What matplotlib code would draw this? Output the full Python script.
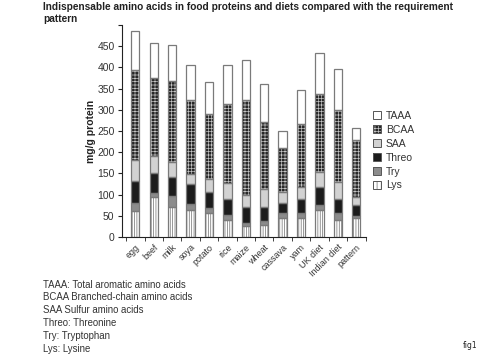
import matplotlib
matplotlib.use("Agg")

import matplotlib.pyplot as plt
from matplotlib.patches import Patch
import numpy as np

plt.rcParams['font.family'] = ['Liberation Sans', 'DejaVu Sans']
plt.rcParams['hatch.linewidth'] = 0.5

# --- Dados (mg/g proteína, segmentos empilhados) ---
categorias = ["egg", "beef", "milk", "soya", "potato", "rice", "maize",
              "wheat", "cassava", "yam", "UK diet", "Indian diet", "pattern"]
lys   = [62, 94, 71, 65, 56, 40, 27, 28, 44, 44, 64, 40, 46]
tryp  = [19, 10, 25, 14, 12, 13, 7, 10, 12, 12, 12, 18, 4]
threo = [51, 47, 46, 45, 39, 37, 36, 32, 25, 35, 43, 33, 25]
saa   = [49, 39, 35, 25, 29, 38, 29, 43, 26, 26, 35, 38, 20]
bcaa  = [213, 185, 191, 174, 154, 186, 225, 158, 102, 150, 184, 171, 133]
taaa  = [91, 82, 84, 83, 75, 92, 94, 90, 40, 80, 96, 95, 29]

nomes_series = ["Lys", "Try", "Threo", "SAA", "BCAA", "TAAA"]
notas = ["TAAA: Total aromatic amino acids",
         "BCAA Branched-chain amino acids",
         "SAA Sulfur amino acids",
         "Threo: Threonine",
         "Try: Tryptophan",
         "Lys: Lysine"]

# estilo de cada série: (cor de fundo, hachura, cor da hachura)
estilos = {
    "Lys":   ("white", "|||||||", "#6e6e6e"),
    "Try":   ("#8c8c8c", None, None),
    "Threo": ("#1c1c1c", None, None),
    "SAA":   ("#d2d2d2", None, None),
    "BCAA":  ("#262626", "+++++", "#c4c4c4"),
    "TAAA":  ("white", None, None),
}
borda = "#7a7a7a"
largura = 0.45

fig = plt.figure(figsize=(5.0, 3.55), dpi=100)
ax = fig.add_axes([0.243, 0.332, 0.488, 0.598])

x = np.arange(len(categorias))
base = np.zeros(len(categorias))
handles = []
for nome, valores in zip(nomes_series, [lys, tryp, threo, saa, bcaa, taaa]):
    cor, hachura, cor_hach = estilos[nome]
    if hachura:
        ax.bar(x, valores, largura, bottom=base, color=cor, hatch=hachura,
               edgecolor=cor_hach, linewidth=0, zorder=2)
    else:
        ax.bar(x, valores, largura, bottom=base, color=cor, linewidth=0, zorder=2)
    ax.bar(x, valores, largura, bottom=base, fill=False, edgecolor=borda,
           linewidth=0.9, zorder=3)
    if hachura:
        fundo = Patch(facecolor=cor, hatch=hachura.replace("|||||||", "||||"),
                      edgecolor=cor_hach, linewidth=0)
    else:
        fundo = Patch(facecolor=cor, linewidth=0)
    contorno = Patch(fill=False, edgecolor="#555555", linewidth=0.7)
    handles.append((fundo, contorno))
    base = base + np.array(valores)

ax.set_xlim(-0.75, 12.5)
ax.set_ylim(0, 500)
ax.set_yticks(np.arange(0, 501, 50))
ax.set_yticklabels([str(v) for v in range(0, 451, 50)] + [""], fontsize=7.5, color="#333333")
ax.set_ylabel("mg/g protein", fontsize=7.5, fontweight="bold", color="#222222", labelpad=1)

ax.set_xticks(x)
ax.set_xticklabels(categorias, rotation=45, ha="right", rotation_mode="anchor",
                   fontsize=6.5, color="#333333")
ax.tick_params(axis="x", length=0, pad=4)
ax.set_xticks(np.arange(-0.5, 12.6, 1), minor=True)
ax.tick_params(axis="x", which="minor", length=3, color="#222222")
ax.tick_params(axis="y", length=3, color="#222222", pad=2)

for s in ["top", "right"]:
    ax.spines[s].set_visible(False)
for s in ["left", "bottom"]:
    ax.spines[s].set_color("#222222")
    ax.spines[s].set_linewidth(0.8)

leg = fig.legend(handles[::-1], nomes_series[::-1], loc="upper left",
                 bbox_to_anchor=(0.738, 0.7), frameon=False, fontsize=7.5,
                 handlelength=0.75, handleheight=0.75, handletextpad=0.45,
                 labelspacing=0.38, borderaxespad=0)
for t in leg.get_texts():
    t.set_color("#333333")

fig.text(0.086, 0.993, "Indispensable amino acids in food proteins and diets compared with the requirement\npattern",
         fontsize=7.3, fontweight="bold", color="#222222", va="top", ha="left", linespacing=1.15)

for i, linha in enumerate(notas):
    fig.text(0.086, 1 - (284.5 + i * 12.8) / 355, linha, fontsize=6.9, color="#333333",
             va="center", ha="left")

fig.text(0.925, 1 - 345 / 355, "fig1", fontsize=5.5, color="#222222", va="center",
         ha="left", family="DejaVu Sans")

fig.savefig("out.png", dpi=100)
